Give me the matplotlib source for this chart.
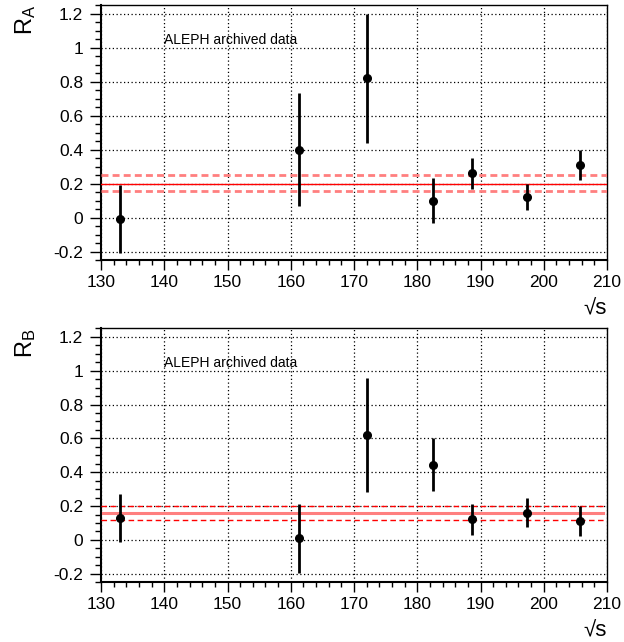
import matplotlib
matplotlib.use('Agg')
from matplotlib import pyplot as plt
from matplotlib.ticker import MultipleLocator, FuncFormatter

plt.rcParams['font.family'] = ['Liberation Sans', 'DejaVu Sans']
plt.rcParams['mathtext.fontset'] = 'custom'
plt.rcParams['mathtext.rm'] = 'Liberation Sans'
plt.rcParams['mathtext.it'] = 'Liberation Sans'
plt.rcParams['axes.unicode_minus'] = False

# centre-of-mass energies (GeV)
sqrt_s = [133.0, 161.3, 172.0, 182.5, 188.6, 197.4, 205.7]

# R_A measurements
ra_val = [-0.01, 0.40, 0.82, 0.10, 0.26, 0.12, 0.31]
ra_err = [0.20, 0.33, 0.38, 0.135, 0.09, 0.076, 0.09]
ra_mean = 0.20
ra_band = [0.158, 0.248]

# R_B measurements
rb_val = [0.13, 0.01, 0.62, 0.445, 0.122, 0.162, 0.113]
rb_err = [0.14, 0.205, 0.337, 0.158, 0.09, 0.084, 0.09]
rb_mean = 0.162
rb_band = [0.117, 0.203]

label_text = "ALEPH archived data"

fig = plt.figure(figsize=(6.24, 6.42), dpi=100)
ax_a = fig.add_axes([0.1619, 0.595, 0.8109, 0.3972])
ax_b = fig.add_axes([0.1619, 0.0930, 0.8109, 0.3956])


def style_axes(ax):
    ax.set_xlim(130, 210)
    ax.set_ylim(-0.25, 1.25)
    ax.xaxis.set_major_locator(MultipleLocator(10))
    ax.xaxis.set_minor_locator(MultipleLocator(2))
    ax.yaxis.set_major_locator(MultipleLocator(0.2))
    ax.yaxis.set_minor_locator(MultipleLocator(0.05))
    ax.yaxis.set_major_formatter(FuncFormatter(lambda v, p: '%g' % round(v, 2)))
    ax.tick_params(which='both', direction='out', labelsize=12.5, width=1)
    ax.tick_params(axis='y', which='major', length=7.9, pad=5)
    ax.tick_params(axis='y', which='minor', length=4.3)
    ax.tick_params(axis='x', which='major', length=7.2, pad=3.6)
    ax.tick_params(axis='x', which='minor', length=3.6)
    ax.grid(True, which='major', color='black', linestyle=(0, (1, 2)), linewidth=0.9)
    for s in ['top', 'right']:
        ax.spines[s].set_linewidth(1.0)
    for s in ['left', 'bottom']:
        ax.spines[s].set_linewidth(1.5)
    ax.text(140, 1.045, label_text, fontsize=10, ha='left', va='center')
    ax.text(1.0, -0.15, u'\u221as', transform=ax.transAxes, ha='right', va='top',
            fontsize=16)


# top panel: R_A
style_axes(ax_a)
ax_a.axhline(ra_mean, color='#ff0000', lw=1.0, zorder=3)
for b in ra_band:
    ax_a.axhline(b, color='#ff7f7f', lw=2.0, linestyle=(0, (2.5, 1.5)), zorder=3)
ax_a.errorbar(sqrt_s, ra_val, yerr=ra_err, fmt='o', color='black', ms=5.5,
              elinewidth=2, capsize=0, zorder=4)
ax_a.text(-0.15, 1.0, r'$\mathrm{R_A}$', transform=ax_a.transAxes, rotation=90,
          ha='center', va='top', fontsize=17)

# bottom panel: R_B
style_axes(ax_b)
ax_b.axhline(rb_mean, color='#ff7f7f', lw=2.2, xmin=0.004, xmax=0.992, zorder=3)
for b in rb_band:
    ax_b.axhline(b, color='#ff0000', lw=1.0, linestyle=(0, (4, 2.5)), zorder=3)
ax_b.errorbar(sqrt_s, rb_val, yerr=rb_err, fmt='o', color='black', ms=5.5,
              elinewidth=2, capsize=0, zorder=4)
ax_b.text(-0.15, 1.0, r'$\mathrm{R_B}$', transform=ax_b.transAxes, rotation=90,
          ha='center', va='top', fontsize=17)

plt.savefig("out.png", dpi=100)
